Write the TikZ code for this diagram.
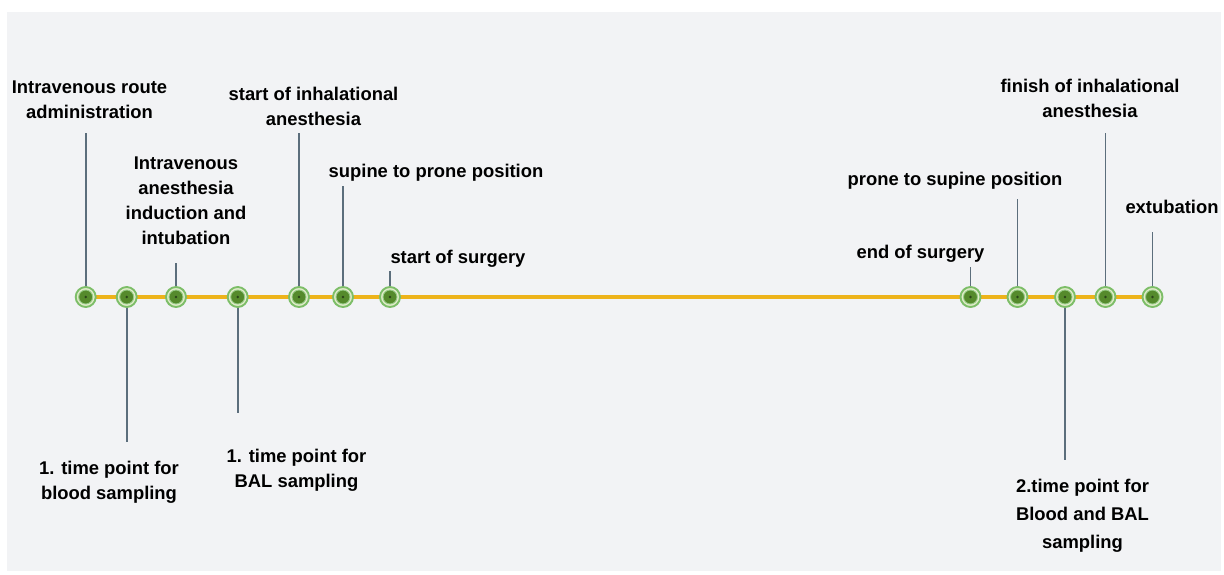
\documentclass[tikz,border=0pt]{standalone}
\usepackage{fontspec}
\setmainfont{Liberation Sans}
\usetikzlibrary{backgrounds}

\definecolor{panelgray}{HTML}{F2F3F5}
\definecolor{axisyellow}{HTML}{EDB31A}
\definecolor{ringgreen}{HTML}{7DBE68}
\definecolor{ringpale}{HTML}{E2ECCB}
\definecolor{dotgreen}{HTML}{558A2C}
\definecolor{dotcore}{HTML}{2A4418}
\definecolor{stemgray}{HTML}{5C6E7C}

\begin{document}
\begin{tikzpicture}[x=1pt,y=-1pt,
    font=\bfseries\fontsize{18.4}{25}\selectfont,
    event/.style={circle, draw=ringgreen, line width=1.9pt, fill=ringpale, minimum size=20pt, inner sep=0pt,
      path picture={
        \fill[dotgreen, draw=ringgreen!80, line width=0.9pt] (path picture bounding box.center) circle (7);
        \fill[dotcore] (path picture bounding box.center) circle (1.4);}},
    stem/.style={draw=stemgray, line width=1.7pt},
    lbl/.style={align=center, inner sep=0pt, text=black}
    ]

    \useasboundingbox (0,0) rectangle (1224,574);

    % events on the time axis
    \node[event] (iv)      at (85.7,297)  {};
    \node[event] (blood1)  at (126.7,297) {};
    \node[event] (induct)  at (176,297)   {};
    \node[event] (bal1)    at (237.7,297) {};
    \node[event] (inhal)   at (299,297)   {};
    \node[event] (toprone) at (343,297)   {};
    \node[event] (surgery) at (390,297)   {};
    \node[event] (endsurg) at (970.5,297) {};
    \node[event] (tosupine) at (1017.5,297) {};
    \node[event] (sample2) at (1065,297)  {};
    \node[event] (finish)  at (1105.5,297) {};
    \node[event] (extub)   at (1152.5,297) {};

    \begin{scope}[on background layer]
    \fill[panelgray] (7,12) rectangle (1221,571);
    \draw[axisyellow, line width=4.5pt] (iv.center) -- (extub.center);
    \end{scope}

    % stem ends
    \coordinate (iv-end)       at (85.7,133);
    \coordinate (blood1-end)   at (126.7,442);
    \coordinate (induct-end)   at (176,263);
    \coordinate (bal1-end)     at (237.7,413);
    \coordinate (inhal-end)    at (299,133);
    \coordinate (toprone-end)  at (343,186);
    \coordinate (surgery-end)  at (390,271);
    \coordinate (endsurg-end)  at (970.5,267);
    \coordinate (tosupine-end) at (1017.5,199);
    \coordinate (sample2-end)  at (1065,460);
    \coordinate (finish-end)   at (1105.5,133);
    \coordinate (extub-end)    at (1152.5,232);

    \foreach \ev in {iv,blood1,induct,bal1,inhal,toprone,surgery,endsurg,tosupine,sample2,finish,extub}
      \draw[stem] (\ev) -- (\ev-end);

    % labels
    \node[lbl] (iv-lbl) at (89.5,100) {Intravenous route\\administration};
    \node[lbl] (induct-lbl) at (186,200.4) {Intravenous\\anesthesia\\induction and\\intubation};
    \node[lbl] (inhal-lbl) at (313.5,106) {start of inhalational\\anesthesia};
    \node[lbl, anchor=base] (toprone-lbl) at (436,177) {supine to prone position};
    \node[lbl, anchor=base] (surgery-lbl) at (458,263) {start of surgery};
    \node[lbl, anchor=base] (endsurg-lbl) at (920.5,258) {end of surgery};
    \node[lbl, anchor=base] (tosupine-lbl) at (955,185) {prone to supine position};
    \node[lbl] (finish-lbl) at (1090,98.8) {finish of inhalational\\anesthesia};
    \node[lbl, anchor=base] (extub-lbl) at (1172,213) {extubation};
    \node[lbl] (blood1-lbl) at (109,482.2) {1. time point for\\blood sampling};
    \node[lbl] (bal1-lbl) at (296.5,470.2) {1. time point for\\BAL sampling};
    \node[lbl, font=\bfseries\fontsize{18.4}{28}\selectfont] (sample2-lbl) at (1082.5,515.7) {2.time point for\\Blood and BAL\\sampling};
    %
\end{tikzpicture}
\end{document}
